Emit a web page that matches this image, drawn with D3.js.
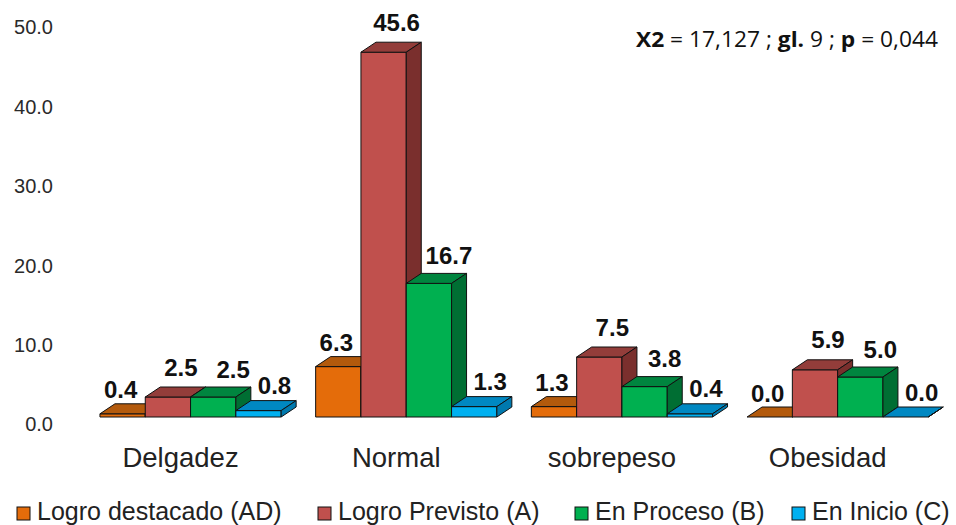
<!DOCTYPE html>
<html>
<head>
<meta charset="utf-8">
<script src="https://cdn.jsdelivr.net/npm/d3@7"></script>
<style>
  html, body { margin: 0; padding: 0; background: #fff; }
  svg { display: block; }
</style>
</head>
<body>
<svg id="chart" width="956" height="525"></svg>
<script>
// ---- data ----
const categories = ["Delgadez", "Normal", "sobrepeso", "Obesidad"];
const seriesNames = ["Logro destacado (AD)", "Logro Previsto (A)", "En Proceso (B)", "En Inicio (C)"];
const adValues = [0.4, 6.3, 1.3, 0.0];
const aValues = [2.5, 45.6, 7.5, 5.9];
const bValues = [2.5, 16.7, 3.8, 5.0];
const cValues = [0.8, 1.3, 0.4, 0.0];
const yTicks = [0, 10, 20, 30, 40, 50];
const annotationParts = [
  { t: "X2", b: true }, { t: " = 17,127 ; ", b: false },
  { t: "gl.", b: true }, { t: " 9 ; ", b: false },
  { t: "p", b: true }, { t: " = 0,044", b: false }
];

// ---- styles ----
const seriesValues = [adValues, aValues, bValues, cValues];
const frontColors = ["#E46C0A", "#C0504D", "#00B050", "#00B0F0"];
const topColors   = ["#B35A0C", "#933D3A", "#00853F", "#0088C2"];
const sideColors  = ["#9A4D08", "#7A2F2D", "#006E33", "#0079AE"];
const labelDx = [-2, 13, 20, 16];
const labelDy = [15.5, 21.5, 19.5, 16.5];
const depthX = 15, depthY = -10;

const svg = d3.select("#chart");

const x = d3.scaleBand().domain(categories).range([82.7, 945.5])
  .paddingInner(0.16).paddingOuter(0.08);
const xs = d3.scaleBand().domain(seriesNames).range([0, x.bandwidth()]);
const y = d3.scaleLinear().domain([0, 50]).range([417, 17]);
const yLab = d3.scaleLinear().domain([0, 50]).range([424.5, 27.5]);

// y axis labels (no line)
const yAxis = d3.axisLeft(yLab).tickValues(yTicks).tickFormat(d3.format(".1f")).tickSize(0).tickPadding(0);
const gy = svg.append("g").attr("transform", "translate(53,0)").call(yAxis);
gy.select(".domain").remove();
gy.selectAll("text").attr("font-family", "Liberation Sans, Arial, sans-serif")
  .attr("font-size", 20).attr("fill", "#2a2a2a");

// bars
const gBars = svg.append("g").attr("stroke", "#111").attr("stroke-width", 1).attr("stroke-linejoin", "round");
categories.forEach((cat, ci) => {
  seriesNames.forEach((s, si) => {
    const v = seriesValues[si][ci];
    const x0 = x(cat) + xs(s);
    const x1 = x0 + xs.bandwidth();
    const yt = y(v), yb = y(0);
    const g = gBars.append("g");
    g.append("rect").attr("x", x0).attr("y", yt).attr("width", x1 - x0).attr("height", Math.max(0, yb - yt))
      .attr("fill", frontColors[si]);
    g.append("path").attr("d", `M${x0},${yt}L${x0 + depthX},${yt + depthY}L${x1 + depthX},${yt + depthY}L${x1},${yt}Z`)
      .attr("fill", topColors[si]);
    g.append("path").attr("d", `M${x1},${yt}L${x1 + depthX},${yt + depthY}L${x1 + depthX},${yb + depthY}L${x1},${yb}Z`)
      .attr("fill", sideColors[si]);
  });
});

// value labels
const gLab = svg.append("g").attr("font-family", "Liberation Sans, Arial, sans-serif")
  .attr("font-size", 24).attr("font-weight", "bold").attr("fill", "#111").attr("text-anchor", "middle");
categories.forEach((cat, ci) => {
  seriesNames.forEach((s, si) => {
    const v = seriesValues[si][ci];
    const cx = x(cat) + xs(s) + xs.bandwidth() / 2 + labelDx[si];
    gLab.append("text").attr("x", cx).attr("y", y(v) - labelDy[si]).text(d3.format(".1f")(v));
  });
});

// category labels
const gCat = svg.append("g").attr("font-family", "Liberation Sans, Arial, sans-serif")
  .attr("font-size", 27.5).attr("fill", "#222").attr("text-anchor", "middle");
categories.forEach(cat => {
  gCat.append("text").attr("x", x(cat) + x.bandwidth() / 2 - 10).attr("y", 467).text(cat);
});

// legend
const legendX = [17, 318, 575, 792];
const gLeg = svg.append("g").attr("font-family", "Liberation Sans, Arial, sans-serif")
  .attr("font-size", 25).attr("fill", "#222");
seriesNames.forEach((s, si) => {
  gLeg.append("rect").attr("x", legendX[si]).attr("y", 507).attr("width", 13).attr("height", 13)
    .attr("fill", frontColors[si]).attr("stroke", "#111").attr("stroke-width", 1);
  gLeg.append("text").attr("x", legendX[si] + 20).attr("y", 520).text(s);
});

// annotation
const ann = svg.append("text").attr("x", 636).attr("y", 47)
  .attr("font-family", "Open Sans, Lato, sans-serif").attr("font-size", 21).attr("fill", "#111")
  .attr("textLength", 302).attr("lengthAdjust", "spacingAndGlyphs");
annotationParts.forEach(p => {
  ann.append("tspan").attr("font-weight", p.b ? "bold" : "normal").text(p.t);
});
</script>
</body>
</html>
